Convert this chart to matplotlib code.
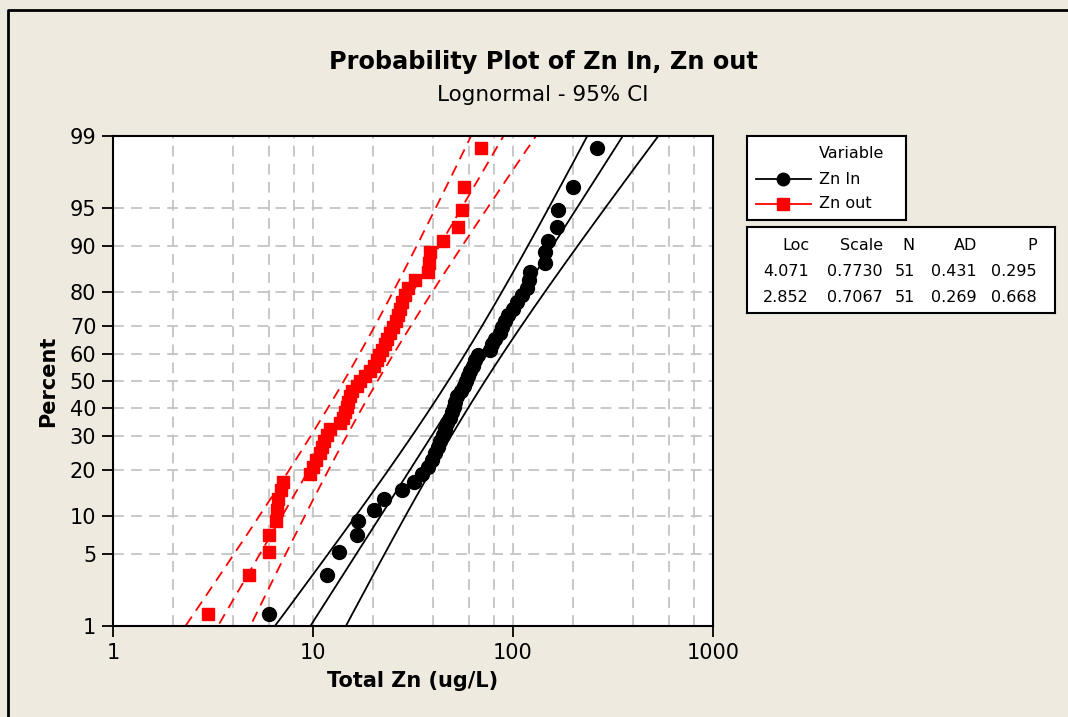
import numpy as np
import matplotlib
matplotlib.use('Agg')
import matplotlib.pyplot as plt
from matplotlib.lines import Line2D
from statistics import NormalDist

# data (ug/L), sorted
zn_in = [6.0, 11.8, 13.5, 16.6, 16.8, 20.2, 22.6, 27.9, 32.0, 35.1,
         37.6, 39.4, 40.7, 42.2, 43.1, 44.7, 45.7, 46.8, 48.4, 49.5,
         50.7, 51.3, 52.5, 55.0, 56.9, 58.2, 59.6, 61.0, 62.8, 64.5,
         66.8, 76.6, 78.5, 81.3, 86.1, 88.1, 91.2, 94.4, 100.0, 104.7,
         111.0, 117.0, 120.0, 121.6, 144.0, 144.5, 150.0, 166.0, 168.0, 200.0,
         263.0]
zn_out = [3.0, 4.8, 6.0, 6.0, 6.5, 6.6, 6.7, 6.9, 7.1, 9.7,
          10.0, 10.4, 10.8, 11.1, 11.4, 11.7, 12.1, 13.6, 14.1, 14.5,
          14.8, 15.0, 15.3, 15.7, 16.6, 17.1, 18.2, 19.2, 20.1, 20.9,
          21.4, 22.2, 22.9, 23.4, 24.3, 25.1, 26.0, 26.6, 27.2, 27.9,
          28.8, 29.8, 32.4, 37.6, 38.0, 38.5, 44.7, 53.0, 55.5, 56.9,
          69.2]

variables = ['Zn In', 'Zn out']
loc = [4.071, 2.852]
scale = [0.7730, 0.7067]
n_obs = [51, 51]
ad = [0.431, 0.269]
pval = [0.295, 0.668]

pct_ticks = [1, 5, 10, 20, 30, 40, 50, 60, 70, 80, 90, 95, 99]

W, H = 1068, 717
BG = '#EEEAE0'
plt.rcParams['font.family'] = ['DejaVu Sans']

nd = NormalDist()
to_z = np.vectorize(lambda p: nd.inv_cdf(min(max(p / 100.0, 1e-9), 1 - 1e-9)), otypes=[float])
from_z = np.vectorize(lambda z: 100.0 * nd.cdf(z), otypes=[float])


def px(x, y):
    return x / W, 1 - y / H


fig = plt.figure(figsize=(W / 100, H / 100), dpi=100, facecolor=BG)
ax = fig.add_axes([113 / W, 1 - 626 / H, 600 / W, 490 / H])
ax.set_facecolor('white')
ax.set_xscale('log')
ax.set_yscale('function', functions=(to_z, from_z))
ax.set_xlim(1, 1000)
ax.set_ylim(1, 99)

styles = [dict(color='black', marker='o', ms=10, ls='-'),
          dict(color='red', marker='s', ms=9.3, ls=(0, (6, 4)))]

pp = np.linspace(0.3, 99.7, 400)
zz = to_z(pp)
for vals, mu, s, n, st in zip([zn_in, zn_out], loc, scale, n_obs, styles):
    vals = np.sort(np.array(vals))
    pos = (np.arange(1, len(vals) + 1) - 0.3) / (len(vals) + 0.4) * 100
    half = 1.96 * np.sqrt(s ** 2 / n * (1 + zz ** 2 / 2))
    for off in (-half, 0, half):
        ax.plot(np.exp(mu + zz * s + off), pp, color=st['color'], ls=st['ls'], lw=1.3, zorder=2)
    ax.plot(vals, pos, ls='none', marker=st['marker'], ms=st['ms'],
            color=st['color'], zorder=3)

ax.set_xticks([1, 10, 100, 1000])
ax.set_xticklabels(['1', '10', '100', '1000'])
minor = [m * d for d in (1, 10, 100) for m in (2, 4, 6, 8)]
ax.set_xticks(minor, minor=True)
ax.set_yticks(pct_ticks)
ax.set_yticklabels([str(p) for p in pct_ticks])
ax.yaxis.set_minor_locator(matplotlib.ticker.NullLocator())
ax.tick_params(axis='both', which='major', direction='out', length=8, width=1.3,
               labelsize=15, pad=4)
ax.tick_params(axis='x', which='minor', length=0)
ax.grid(True, which='both', axis='x', color='#C4C4C4', ls=(0, (6, 4)), lw=1.3)
ax.grid(True, which='major', axis='y', color='#C4C4C4', ls=(0, (6, 4)), lw=1.3)
ax.set_axisbelow(True)
for sp in ax.spines.values():
    sp.set_linewidth(1.5)

ax.set_xlabel('Total Zn (ug/L)', fontsize=15, fontweight='bold', labelpad=6)
ax.set_ylabel('Percent', fontsize=15, fontweight='bold', labelpad=8)

fig.text(*px(543, 62), 'Probability Plot of Zn In, Zn out', ha='center', va='center',
         fontsize=17.3, fontweight='bold')
fig.text(*px(543, 95), 'Lognormal - 95% CI', ha='center', va='center', fontsize=15.5)

# frame lines of the figure
fig.add_artist(Line2D([8 / W, 8 / W, 1], [0, 1 - 10 / H, 1 - 10 / H], color='black', lw=2))

# legend box
lax = fig.add_axes([747 / W, 1 - 220 / H, 159 / W, 84 / H])
lax2 = fig.add_axes([747 / W, 1 - 313 / H, 308 / W, 86 / H])
for a in (lax, lax2):
    a.set_facecolor('white')
    a.set_xticks([])
    a.set_yticks([])
    for sp in a.spines.values():
        sp.set_linewidth(1.5)

fs = 11.5
fig.text(*px(819, 153), 'Variable', va='center', fontsize=fs)
for i, (name, st) in enumerate(zip(variables, styles)):
    y = 179 + i * 25
    x0, y0 = px(756, y)
    x1, _ = px(811, y)
    xm, _ = px(783, y)
    fig.add_artist(Line2D([x0, x1], [y0, y0], color=st['color'], lw=1.3, zorder=4))
    fig.add_artist(Line2D([xm], [y0], color=st['color'], marker=st['marker'],
                          ms=st['ms'] - 1, zorder=4))
    fig.text(*px(819, y), name, va='center', fontsize=fs)

headers = ['Loc', 'Scale', 'N', 'AD', 'P']
col_right = [809, 883, 915, 977, 1037]
for h, xr in zip(headers, col_right):
    fig.text(*px(xr, 246), h, ha='right', va='center', fontsize=fs)
rows = [[f'{loc[i]:.3f}', f'{scale[i]:.4f}', str(n_obs[i]), f'{ad[i]:.3f}', f'{pval[i]:.3f}']
        for i in range(2)]
for r, y in zip(rows, [272, 297]):
    for t, xr in zip(r, col_right):
        fig.text(*px(xr, y), t, ha='right', va='center', fontsize=fs)

fig.savefig('out.png', dpi=100, facecolor=BG)
